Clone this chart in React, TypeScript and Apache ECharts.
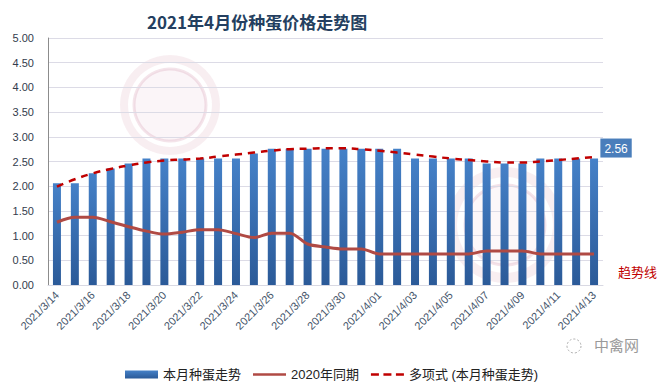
import React, { useEffect, useRef } from "react";
import * as echarts from "echarts";

const categories = [
  "2021/3/14", "2021/3/15", "2021/3/16", "2021/3/17", "2021/3/18", "2021/3/19", "2021/3/20",
  "2021/3/21", "2021/3/22", "2021/3/23", "2021/3/24", "2021/3/25", "2021/3/26", "2021/3/27",
  "2021/3/28", "2021/3/29", "2021/3/30", "2021/3/31", "2021/4/01", "2021/4/02", "2021/4/03",
  "2021/4/04", "2021/4/05", "2021/4/06", "2021/4/07", "2021/4/08", "2021/4/09", "2021/4/10",
  "2021/4/11", "2021/4/12", "2021/4/13",
];

const thisMonth = [
  2.06, 2.06, 2.26, 2.36, 2.46, 2.56, 2.56, 2.56, 2.56, 2.56, 2.56, 2.66, 2.76, 2.76, 2.76, 2.76,
  2.76, 2.76, 2.76, 2.76, 2.56, 2.56, 2.56, 2.56, 2.46, 2.46, 2.46, 2.56, 2.56, 2.56, 2.56,
];

const lastYear = [
  1.27, 1.37, 1.37, 1.28, 1.18, 1.09, 1.03, 1.07, 1.12, 1.12, 1.04, 0.96, 1.05, 1.05, 0.83, 0.77,
  0.73, 0.73, 0.63, 0.63, 0.63, 0.63, 0.63, 0.63, 0.69, 0.69, 0.69, 0.63, 0.63, 0.63, 0.63,
];

const trend = [
  1.99, 2.14, 2.26, 2.35, 2.42, 2.48, 2.52, 2.54, 2.56, 2.6, 2.64, 2.68, 2.72, 2.75, 2.76, 2.77,
  2.77, 2.75, 2.72, 2.68, 2.64, 2.6, 2.56, 2.53, 2.5, 2.48, 2.48, 2.5, 2.53, 2.56, 2.59,
];

const yTicks = { min: 0, max: 5, interval: 0.5 };

const seriesNames = ["本月种蛋走势", "2020年同期", "多项式 (本月种蛋走势)"];
const titleText = "2021年4月份种蛋价格走势图";

export default function App() {
  const ref = useRef<HTMLDivElement>(null);
  useEffect(() => {
    if (!ref.current) return;
    const chart = echarts.init(ref.current, undefined, { renderer: "svg" });
    const font = "'Liberation Sans', 'Noto Sans CJK SC', sans-serif";
    const lastIdx = thisMonth.length - 1;
    chart.setOption({
      animation: false,
      backgroundColor: "#ffffff",
      textStyle: { fontFamily: font },
      grid: { left: 48, right: 59, top: 38, bottom: 104 },
      legend: {
        left: 120,
        top: 363,
        itemGap: 12,
        itemWidth: 33,
        itemHeight: 8,
        symbolKeepAspect: true,
        textStyle: { fontSize: 13, color: "#222", fontFamily: font },
        data: [
          { name: seriesNames[0], icon: "rect" },
          { name: seriesNames[1], icon: "path://M0,0h33v2.5h-33z" },
          {
            name: seriesNames[2],
            icon: "path://M0,0h8v2.5h-8zM12.5,0h8v2.5h-8zM25,0h8v2.5h-8z",
          },
        ],
      },
      graphic: [
        {
          type: "ring",
          shape: { cx: 170, cy: 105, r: 50, r0: 42 },
          style: { fill: "rgba(200,120,150,0.13)" },
          z: 0,
        },
        {
          type: "circle",
          shape: { cx: 170, cy: 105, r: 36 },
          style: { fill: "rgba(200,120,150,0.07)", stroke: "rgba(200,120,150,0.2)", lineWidth: 3 },
          z: 0,
        },
        {
          type: "ring",
          shape: { cx: 505, cy: 225, r: 58, r0: 48 },
          style: { fill: "rgba(200,120,150,0.13)" },
          z: 0,
        },
        {
          type: "circle",
          shape: { cx: 505, cy: 225, r: 40 },
          style: { fill: "rgba(200,120,150,0.06)", stroke: "rgba(200,120,150,0.2)", lineWidth: 3 },
          z: 0,
        },
        {
          type: "text",
          left: 147,
          top: 13,
          style: {
            text: titleText,
            font: `bold 17px 'Noto Sans CJK SC', sans-serif`,
            fill: "#243f60",
          },
        },
        {
          type: "text",
          left: 618,
          top: 265,
          style: {
            text: "趋势线",
            font: `13px 'Noto Sans CJK SC', sans-serif`,
            fill: "#c00000",
          },
        },
        {
          type: "circle",
          shape: { cx: 574, cy: 346, r: 7 },
          style: { fill: "none", stroke: "#aaaaaa", lineWidth: 1, lineDash: [2, 2] },
        },
        {
          type: "text",
          left: 594,
          top: 337,
          style: {
            text: "中禽网",
            font: `15px 'Noto Sans CJK SC', sans-serif`,
            fill: "#9a9a9a",
          },
        },
      ],
      xAxis: {
        type: "category",
        data: categories,
        boundaryGap: true,
        axisLine: { show: true, lineStyle: { color: "#d9d9e3", width: 1 } },
        axisTick: { show: false },
        axisLabel: {
          interval: 1,
          rotate: 45,
          fontSize: 11,
          color: "#44546a",
          margin: 8,
          fontFamily: font,
        },
        splitLine: { show: false },
      },
      yAxis: {
        type: "value",
        min: yTicks.min,
        max: yTicks.max,
        interval: yTicks.interval,
        axisLine: { show: true, lineStyle: { color: "#8c8c8c", width: 1 } },
        axisTick: { show: false },
        axisLabel: {
          formatter: (v: number) => v.toFixed(2),
          fontSize: 11,
          color: "#333c4d",
          margin: 14,
          fontFamily: font,
        },
        splitLine: { show: true, lineStyle: { color: "#dcdbe6", width: 1 } },
      },
      series: [
        {
          name: seriesNames[0],
          type: "bar",
          barWidth: 8,
          z: 2,
          itemStyle: {
            color: new echarts.graphic.LinearGradient(0, 0, 0, 1, [
              { offset: 0, color: "#4581c8" },
              { offset: 1, color: "#2b5a98" },
            ]),
          },
          data: thisMonth.map((v, i) =>
            i === lastIdx
              ? {
                  value: v,
                  label: {
                    show: true,
                    position: "top",
                    offset: [22, 4],
                    formatter: (p: any) => Number(p.value).toFixed(2),
                    backgroundColor: "#4a7ebb",
                    color: "#ffffff",
                    fontSize: 12,
                    padding: [4, 4, 3, 4],
                    fontFamily: font,
                  },
                }
              : v
          ),
        },
        {
          name: seriesNames[1],
          type: "line",
          smooth: 0.3,
          symbol: "none",
          z: 3,
          itemStyle: { color: "#b04a44" },
          lineStyle: { color: "#b04a44", width: 3 },
          data: lastYear,
        },
        {
          name: seriesNames[2],
          type: "line",
          smooth: true,
          symbol: "none",
          z: 4,
          itemStyle: { color: "#c00000" },
          lineStyle: { color: "#c00000", width: 2.5, type: [7, 6] },
          data: trend,
        },
      ],
    });
    return () => chart.dispose();
  }, []);
  return (
    <div
      ref={ref}
      style={{ position: "fixed", left: 0, top: 0, width: 662, height: 389 }}
    />
  );
}
